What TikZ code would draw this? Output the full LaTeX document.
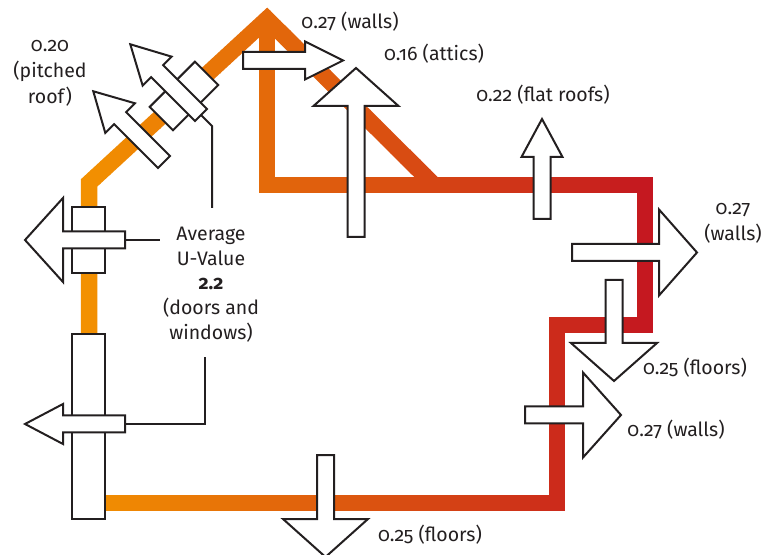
\documentclass[tikz,border=0pt]{standalone}
\usepackage{fontspec}
\setmainfont{Fira Sans}[Numbers=OldStyle]
\usepackage{xcolor}
\usepackage{tikz}
\usetikzlibrary{calc, positioning}

\definecolor{houseorange}{RGB}{243,146,0}
\definecolor{housered}{RGB}{196,22,32}
\definecolor{inkgray}{RGB}{35,31,32}

\tikzset{
	pics/heatarrow/.style 2 args={code={
		\draw[arrowline] (0,8.5) -- ({#1-38},8.5) -- ({#1-38},#2) -- (#1,0)
			-- ({#1-38},-#2) -- ({#1-38},-8.5) -- (0,-8.5) -- cycle;
		\coordinate (-tail) at (0,0);
	}}
}

\begin{document}
\begin{tikzpicture}[x=1pt, y=1pt]
		\tikzstyle{band} = [line width=16.5, line join=miter]
		\tikzstyle{frame} = [draw=inkgray, fill=white, line width=2, inner sep=0]
		\tikzstyle{arrowline} = [draw=inkgray, fill=white, line width=2, line join=miter]
		\tikzstyle{callout} = [draw=inkgray, line width=2]
		\tikzstyle{lbl} = [text=inkgray, font=\fontsize{19.5}{26}\selectfont, align=center, inner sep=3]
		
		\useasboundingbox (0,0) rectangle (762,554);
		
		% house outline, orange to red
		\foreach \i in {0,...,57} {
			\pgfmathsetmacro\mix{min(100,max(0,(\i*10+4)/5.72))}
			\begin{scope}
				\clip (80+\i*10,0) rectangle ++(10.6,554);
				\draw[band, draw=housered!\mix!houseorange]
					(89,36) -- (89,371) -- (267,535) -- (434,369);
				\draw[band, draw=housered!\mix!houseorange]
					(267,535) -- (267,369) -- (645,369) -- (645,229) -- (557,229) -- (557,51) -- (97,51);
			\end{scope}
		}
		
		% windows
		\node[frame, minimum width=33, minimum height=66] 	at (88.5,314)	(winAframe) 	{};
		\node[frame, minimum width=33, minimum height=185] 	at (88.5,127.5)	(winBframe) 	{};
		\node[frame, minimum width=64, minimum height=33, rotate=45] at (184,458) (roofframe) {};
		
		% labels
		\node[lbl]	at (50,481)		(pitched)		{0.20\\(pitched\\roof)};
		\node[lbl, font=\fontsize{19.5}{24.7}\selectfont]
					at (211,269.5)	(uval)			{Average\\U-Value\\\textbf{2.2}\\(doors and\\windows)};
		\node[lbl]	at (350,532)	(wallstop)		{0.27 (walls)};
		\node[lbl]	at (434,500)	(attics)		{0.16 (attics)};
		\node[lbl]	at (543,459)	(flat)			{0.22 (flat roofs)};
		\node[lbl]	at (733,331)	(wallsright)	{0.27\\(walls)};
		\node[lbl]	at (695,186)	(floorsright)	{0.25 (floors)};
		\node[lbl]	at (676,124)	(wallslow)		{0.27 (walls)};
		\node[lbl]	at (430,19)		(floorsbottom)	{0.25 (floors)};
		
		% heat loss arrows
		\pic[rotate=180]	(winA)		at (125,314)	{heatarrow={100}{42}};
		\pic[rotate=180]	(winB)		at (125,130)	{heatarrow={100}{20}};
		\pic[rotate=135]	(roofA)		at (201,439)	{heatarrow={100}{20.5}};
		\pic[rotate=135]	(roofB)		at (164,392)	{heatarrow={100}{21}};
		\pic				(walltop)	at (243,493.5)	{heatarrow={100}{19}};
		\pic[rotate=90]		(attic)		at (356,317)	{heatarrow={169}{42.5}};
		\pic[rotate=90]		(flatroof)	at (542,335)	{heatarrow={100}{20.5}};
		\pic				(wallR)		at (572,301.5)	{heatarrow={125}{43}};
		\pic[rotate=-90]	(floorR)	at (614,274)	{heatarrow={101}{43}};
		\pic				(wallL)		at (525,139)	{heatarrow={96}{42.5}};
		\pic[rotate=-90]	(floorB)	at (325.5,99)	{heatarrow={102}{42.5}};
		
		% callouts to the doors and windows
		\draw[callout] (roofA-tail) -- ++(11,-11) coordinate (bend) -- (bend |- {$(uval.north)+(0,16)$});
		\draw[callout] (winA-tail) -- (winA-tail -| uval.west);
		\draw[callout] ($(uval.south)+(-6,-12)$) |- (winB-tail);
	\end{tikzpicture}
\end{document}
